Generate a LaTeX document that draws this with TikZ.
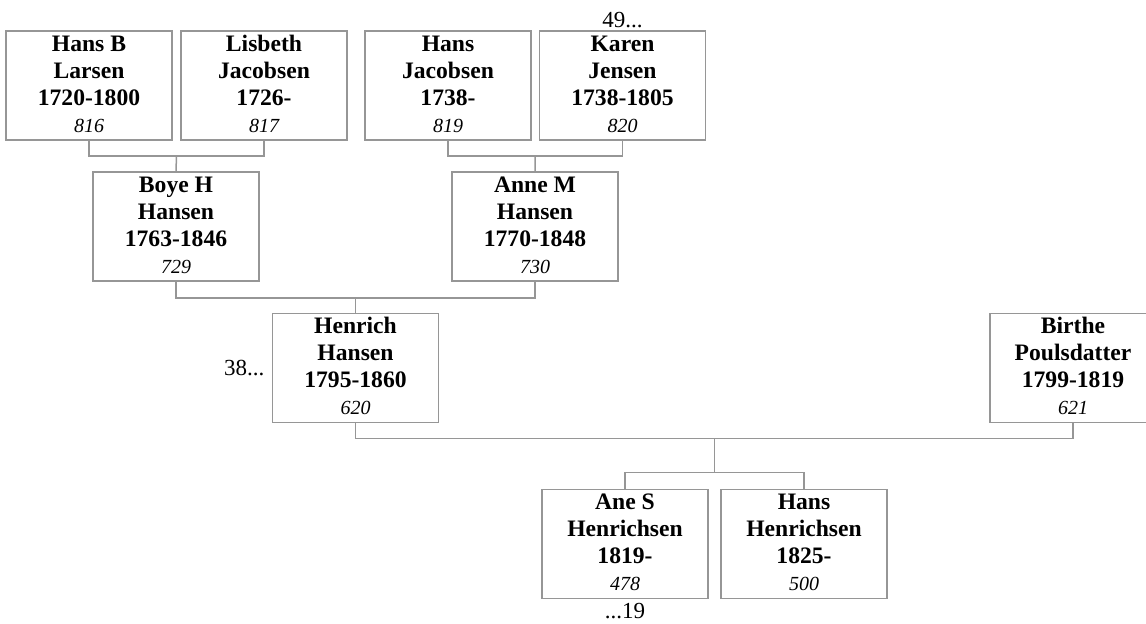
\documentclass[tikz,border=0pt]{standalone}
\usepackage{fontspec}
\setmainfont{Liberation Serif}
\usetikzlibrary{calc,positioning}
\definecolor{boxline}{HTML}{969696}
\newcommand{\famcard}[4]{\rule{0pt}{8.3pt}#1\\#2\\#3\\{\fontseries{m}\itshape\fontsize{10}{12}\selectfont #4}\rule[-2.3pt]{0pt}{2.3pt}}

\begin{document}
\begin{tikzpicture}[x=0.5pt, y=0.5pt,
  person/.style={draw=boxline, line width=0.75pt, minimum width=83pt, minimum height=54.5pt, inner sep=0pt, align=center, font=\fontsize{11.8}{13.5}\selectfont\bfseries},
  link/.style={draw=boxline, line width=0.75pt},
  more/.style={inner sep=1pt, font=\fontsize{11.5}{13}\selectfont}]

  \useasboundingbox (0,0) rectangle (1146,-623);
  \clip (0,0) rectangle (1146,-623);

  % great-grandparents
  \node[person] (hbl)  at (89,-85.5)    {\famcard{Hans B}{Larsen}{1720-1800}{816}};
  \node[person] (lj)   at (264,-85.5)   {\famcard{Lisbeth}{Jacobsen}{1726-}{817}};
  \node[person] (hj)   at (448,-85.5)   {\famcard{Hans}{Jacobsen}{1738-}{819}};
  \node[person] (kj)   at (622.5,-85.5) {\famcard{Karen}{Jensen}{1738-1805}{820}};

  % grandparents
  \node[person] (bhh)  at (176,-226.5)  {\famcard{Boye H}{Hansen}{1763-1846}{729}};
  \node[person] (amh)  at (535,-226.5)  {\famcard{Anne M}{Hansen}{1770-1848}{730}};

  % parents
  \node[person] (hh)   at (355.5,-368)  {\famcard{Henrich}{Hansen}{1795-1860}{620}};
  \node[person] (bp)   at (1073,-368)   {\famcard{Birthe}{Poulsdatter}{1799-1819}{621}};

  % children
  \node[person] (ash)  at (625,-544)    {\famcard{Ane S}{Henrichsen}{1819-}{478}};
  \node[person] (hhen) at (804,-544)    {\famcard{Hans}{Henrichsen}{1825-}{500}};

  \node[more, above=0pt of kj]   (n49) {49...};
  \node[more, left=2.5pt of hh]  (n38) {38...};
  \node[more, below=1pt of ash]  (n19) {...19};

  \coordinate (j1) at ($(hbl.south)!0.5!(lj.south)+(0,-15)$);
  \draw[link] (hbl.south) |- (j1) -| (lj.south);
  \draw[link] (j1) -- (bhh.north);

  \coordinate (j2) at ($(hj.south)!0.5!(kj.south)+(0,-15)$);
  \draw[link] (hj.south) |- (j2) -| (kj.south);
  \draw[link] (j2) -- (amh.north);

  \coordinate (j3) at ($(bhh.south)!0.5!(amh.south)+(0,-16)$);
  \draw[link] (bhh.south) |- (j3) -| (amh.south);
  \draw[link] (j3) -- (hh.north);

  \coordinate (j4) at ($(hh.south)!0.5!(bp.south)+(0,-15)$);
  \draw[link] (hh.south) |- (j4) -| (bp.south);
  \coordinate (k4) at ($(j4)+(0,-34)$);
  \draw[link] (j4) -- (k4);
  \draw[link] (ash.north) |- (k4) -| (hhen.north);

\end{tikzpicture}
\end{document}
